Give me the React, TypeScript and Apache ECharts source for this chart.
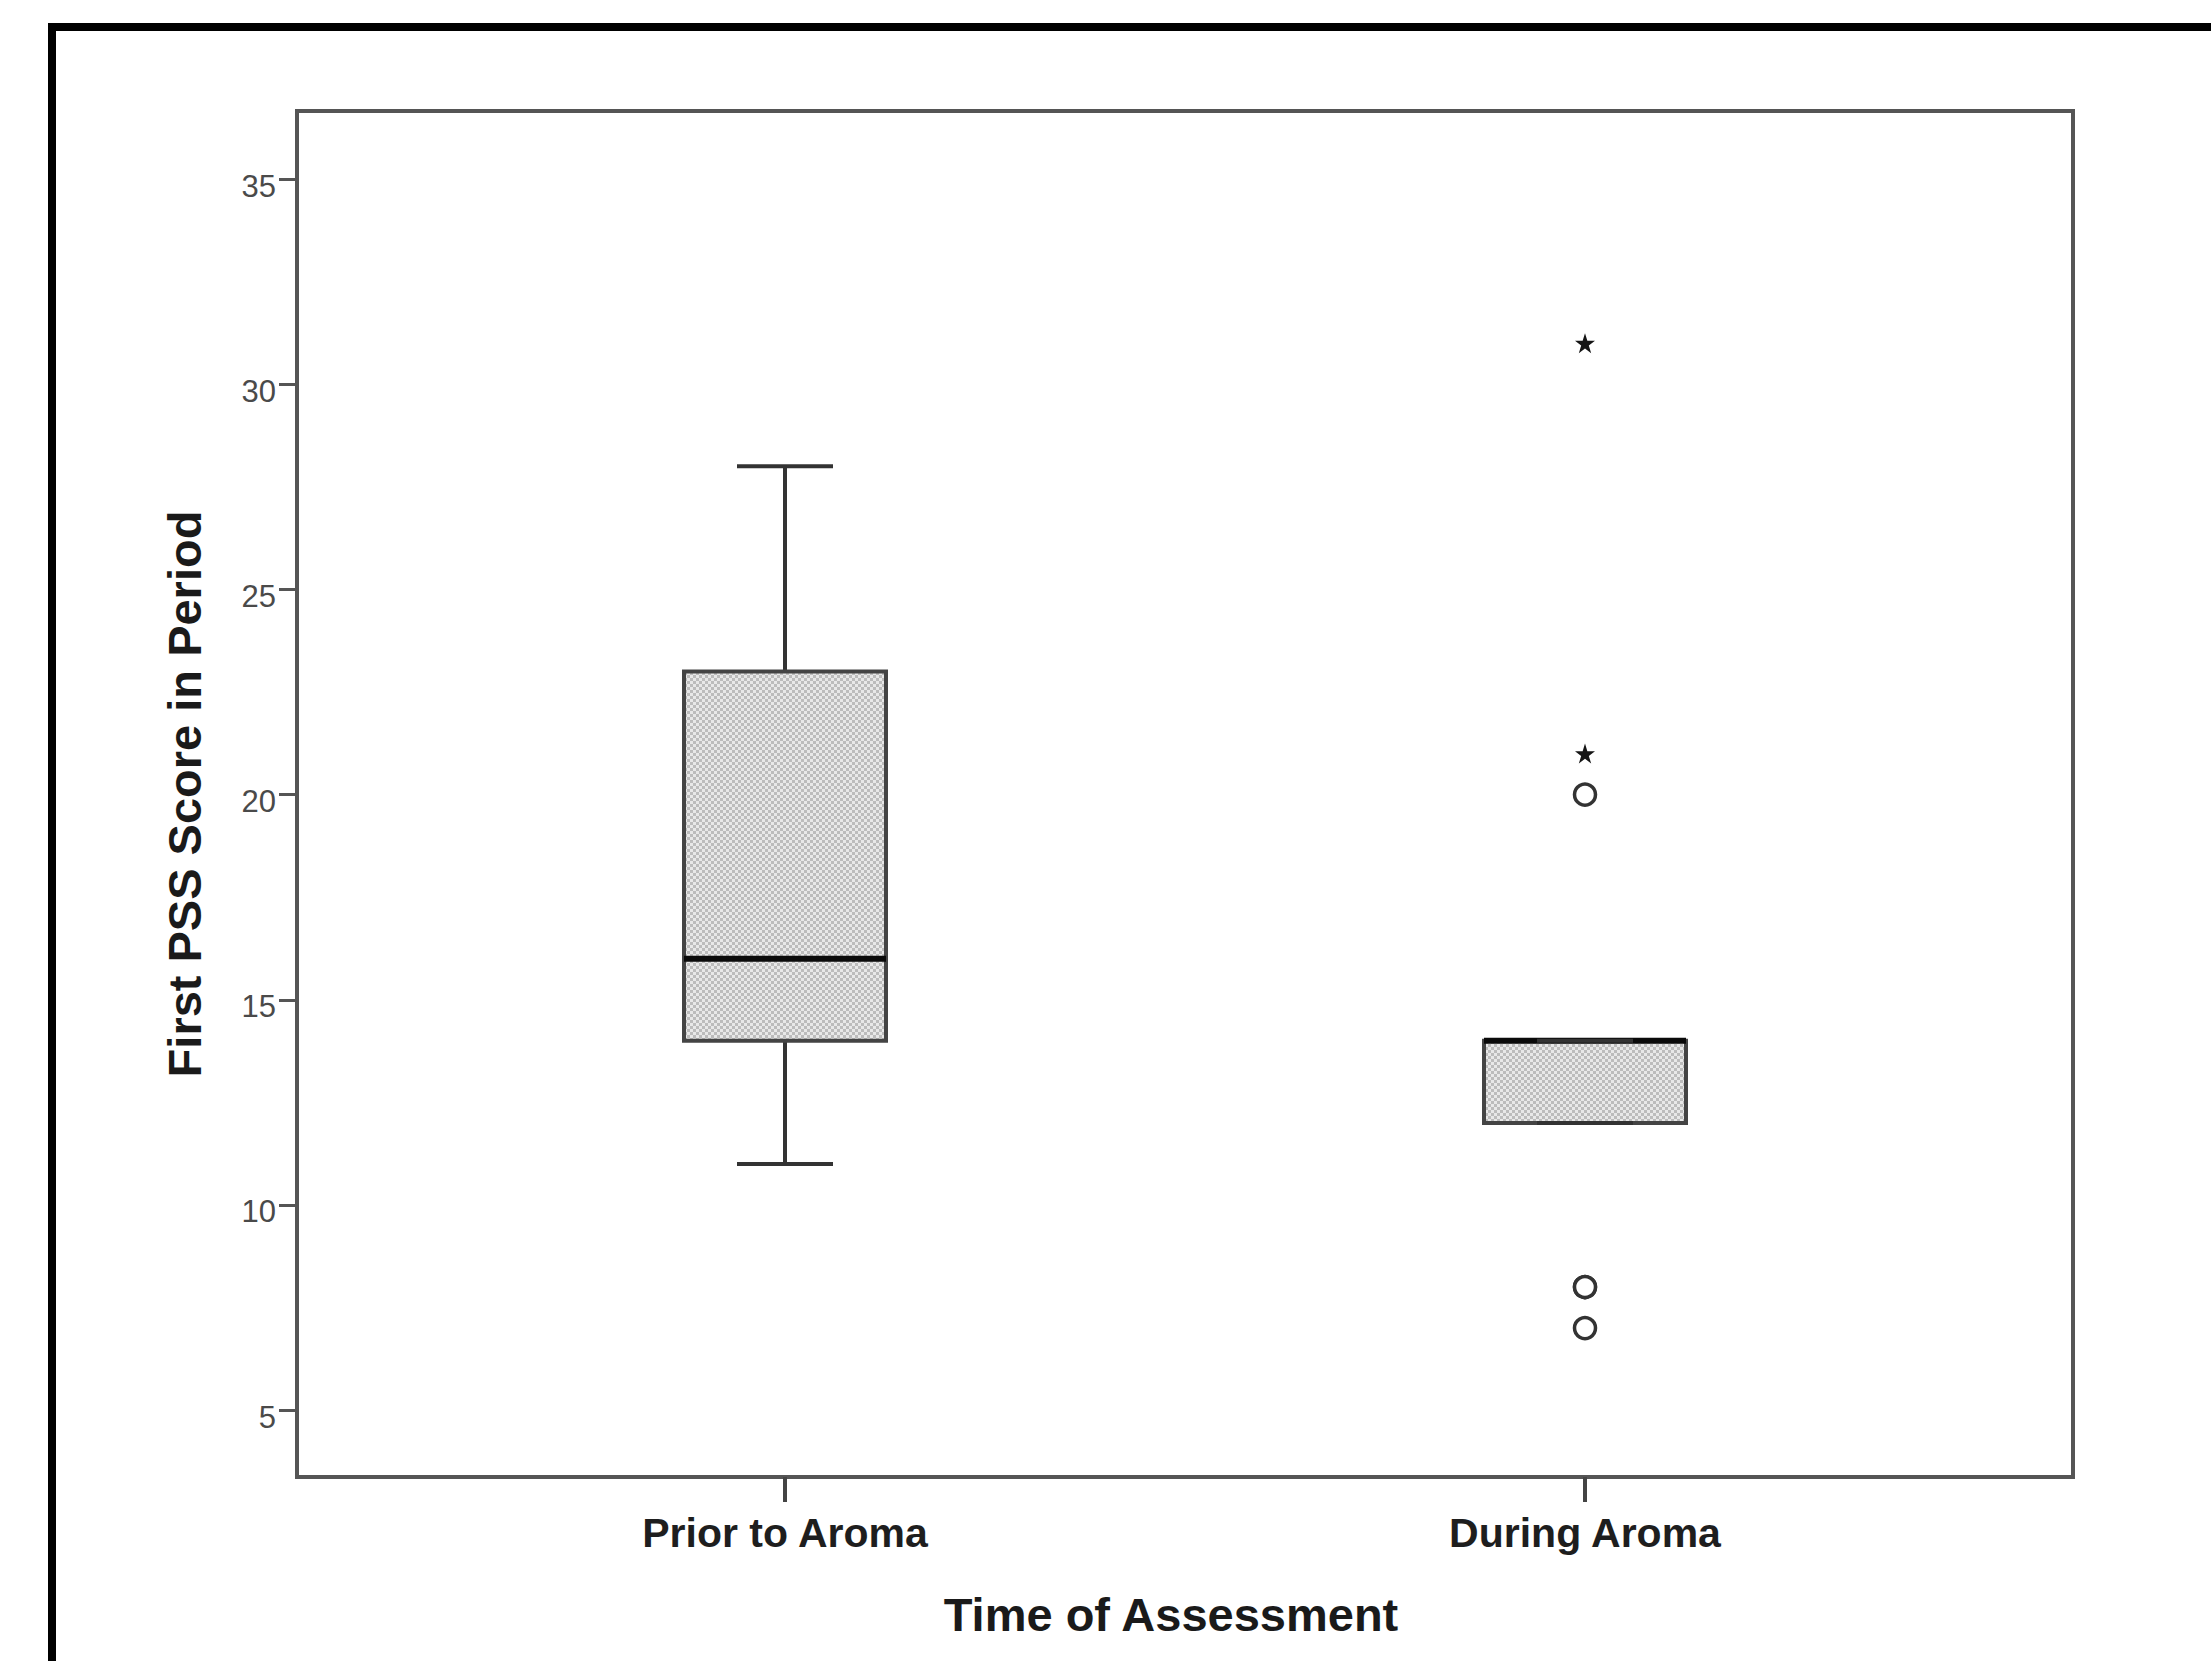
import React, { useEffect, useRef } from "react";
import * as echarts from "echarts";

// ---- Data ----
const categories = ["Prior to Aroma", "During Aroma"];
// [categoryPosition, lowerWhisker, Q1, median, Q3, upperWhisker]
const boxPrior = [1, 11, 14, 16, 23, 28];
const boxDuring = [2, 12, 12, 14, 14, 14];
// outliers (circles) and extreme values (stars)
const outlierPoints = [
  [2, 20],
  [2, 8],
  [2, 8],
  [2, 7],
];
const extremePoints = [
  [2, 31],
  [2, 21],
];
const yTickValues = [5, 10, 15, 20, 25, 30, 35];
const xTickValues = [1, 2];

const FONT = "'Liberation Sans', Arial, Helvetica, sans-serif";
const STAR =
  "path://M50,0 L61.2,34.5 L97.6,34.5 L68.2,55.9 L79.4,90.5 L50,69.1 L20.6,90.5 L31.8,55.9 L2.4,34.5 L38.8,34.5 Z";

export default function App() {
  const ref = useRef<HTMLDivElement>(null);

  useEffect(() => {
    if (!ref.current) return;
    const chart = echarts.init(ref.current, null, { renderer: "svg" });

    // dotted texture for box fill
    const tile = document.createElement("canvas");
    tile.width = 6;
    tile.height = 6;
    const ctx = tile.getContext("2d");
    if (ctx) {
      ctx.fillStyle = "#e8e8e8";
      ctx.fillRect(0, 0, 6, 6);
      ctx.fillStyle = "#bcbcbc";
      ctx.fillRect(0, 0, 3, 3);
      ctx.fillRect(3, 3, 3, 3);
    }
    const pattern: any = {
      image: tile,
      repeat: "repeat",
      imageWidth: 6,
      imageHeight: 6,
    };

    const BOX_W = 0.2525; // in x-units
    const CAP_W = 0.12;

    const option: any = {
      animation: false,
      backgroundColor: "#ffffff",
      graphic: [
        {
          type: "rect",
          silent: true,
          z: -10,
          shape: { x: 52, y: 27, width: 2400, height: 2000 },
          style: { fill: "none", stroke: "#000000", lineWidth: 8 },
        },
      ],
      grid: {
        left: 297,
        top: 111,
        right: 138,
        bottom: 184,
        show: true,
        borderColor: "#555555",
        borderWidth: 4,
        backgroundColor: "transparent",
      },
      xAxis: {
        type: "value",
        min: 0.39,
        max: 2.61,
        splitLine: { show: false },
        axisLine: { show: false },
        axisTick: {
          show: true,
          customValues: xTickValues,
          length: 25,
          lineStyle: { color: "#444444", width: 4 },
        },
        axisLabel: {
          customValues: xTickValues,
          margin: 35,
          fontFamily: FONT,
          fontSize: 41,
          fontWeight: "bold",
          color: "#1e1e1e",
          formatter: (v: number) => categories[Math.round(v) - 1] ?? "",
        },
        name: "Time of Assessment",
        nameLocation: "middle",
        nameGap: 114,
        nameTextStyle: {
          fontFamily: FONT,
          fontSize: 47,
          fontWeight: "bold",
          color: "#1a1a1a",
          padding: [0, 28, 0, 0],
        },
      },
      yAxis: {
        type: "value",
        min: 3.37,
        max: 36.66,
        splitLine: { show: false },
        axisLine: { show: false },
        axisTick: {
          show: true,
          customValues: yTickValues,
          length: 18,
          lineStyle: { color: "#555555", width: 3 },
        },
        axisLabel: {
          customValues: yTickValues,
          margin: 21,
          fontFamily: FONT,
          fontSize: 31,
          color: "#4a4a4a",
          verticalAlign: "top",
          lineHeight: 14,
        },
        name: "First PSS Score in Period",
        nameLocation: "middle",
        nameGap: 89,
        nameTextStyle: {
          fontFamily: FONT,
          fontSize: 47,
          fontWeight: "bold",
          color: "#1a1a1a",
        },
      },
      series: [
        {
          type: "custom",
          data: [boxPrior, boxDuring],
          encode: { x: 0, y: [1, 2, 3, 4, 5] },
          renderItem: (params: any, api: any) => {
            const x = api.value(0);
            const cx = api.coord([x, api.value(1)])[0];
            const yMin = api.coord([x, api.value(1)])[1];
            const yQ1 = api.coord([x, api.value(2)])[1];
            const yMed = api.coord([x, api.value(3)])[1];
            const yQ3 = api.coord([x, api.value(4)])[1];
            const yMax = api.coord([x, api.value(5)])[1];
            const unit = api.size([1, 0])[0];
            const half = (unit * BOX_W) / 2;
            const capHalf = (unit * CAP_W) / 2;
            const lineStyle = { stroke: "#333333", lineWidth: 4 };
            return {
              type: "group",
              children: [
                {
                  type: "line",
                  shape: { x1: cx, y1: yQ3, x2: cx, y2: yMax },
                  style: lineStyle,
                },
                {
                  type: "line",
                  shape: { x1: cx, y1: yQ1, x2: cx, y2: yMin },
                  style: lineStyle,
                },
                {
                  type: "rect",
                  shape: {
                    x: cx - half,
                    y: yQ3,
                    width: half * 2,
                    height: yQ1 - yQ3,
                  },
                  style: { fill: pattern, stroke: "#444444", lineWidth: 4 },
                },
                {
                  type: "line",
                  shape: { x1: cx - half, y1: yMed, x2: cx + half, y2: yMed },
                  style: { stroke: "#0a0a0a", lineWidth: 6 },
                },
                {
                  type: "line",
                  shape: { x1: cx - capHalf, y1: yMax, x2: cx + capHalf, y2: yMax },
                  style: lineStyle,
                },
                {
                  type: "line",
                  shape: { x1: cx - capHalf, y1: yMin, x2: cx + capHalf, y2: yMin },
                  style: lineStyle,
                },
              ],
            };
          },
        },
        {
          type: "scatter",
          data: outlierPoints,
          symbol: "circle",
          symbolSize: 21,
          itemStyle: {
            color: "#ffffff",
            borderColor: "#333333",
            borderWidth: 3.5,
            opacity: 1,
          },
        },
        {
          type: "scatter",
          data: extremePoints,
          symbol: STAR,
          symbolSize: 20,
          itemStyle: { color: "#151515", opacity: 1 },
        },
      ],
    };

    chart.setOption(option);
    return () => {
      chart.dispose();
    };
  }, []);

  return (
    <div
      ref={ref}
      style={{
        position: "fixed",
        left: 0,
        top: 0,
        width: 2211,
        height: 1661,
        background: "#ffffff",
      }}
    />
  );
}
